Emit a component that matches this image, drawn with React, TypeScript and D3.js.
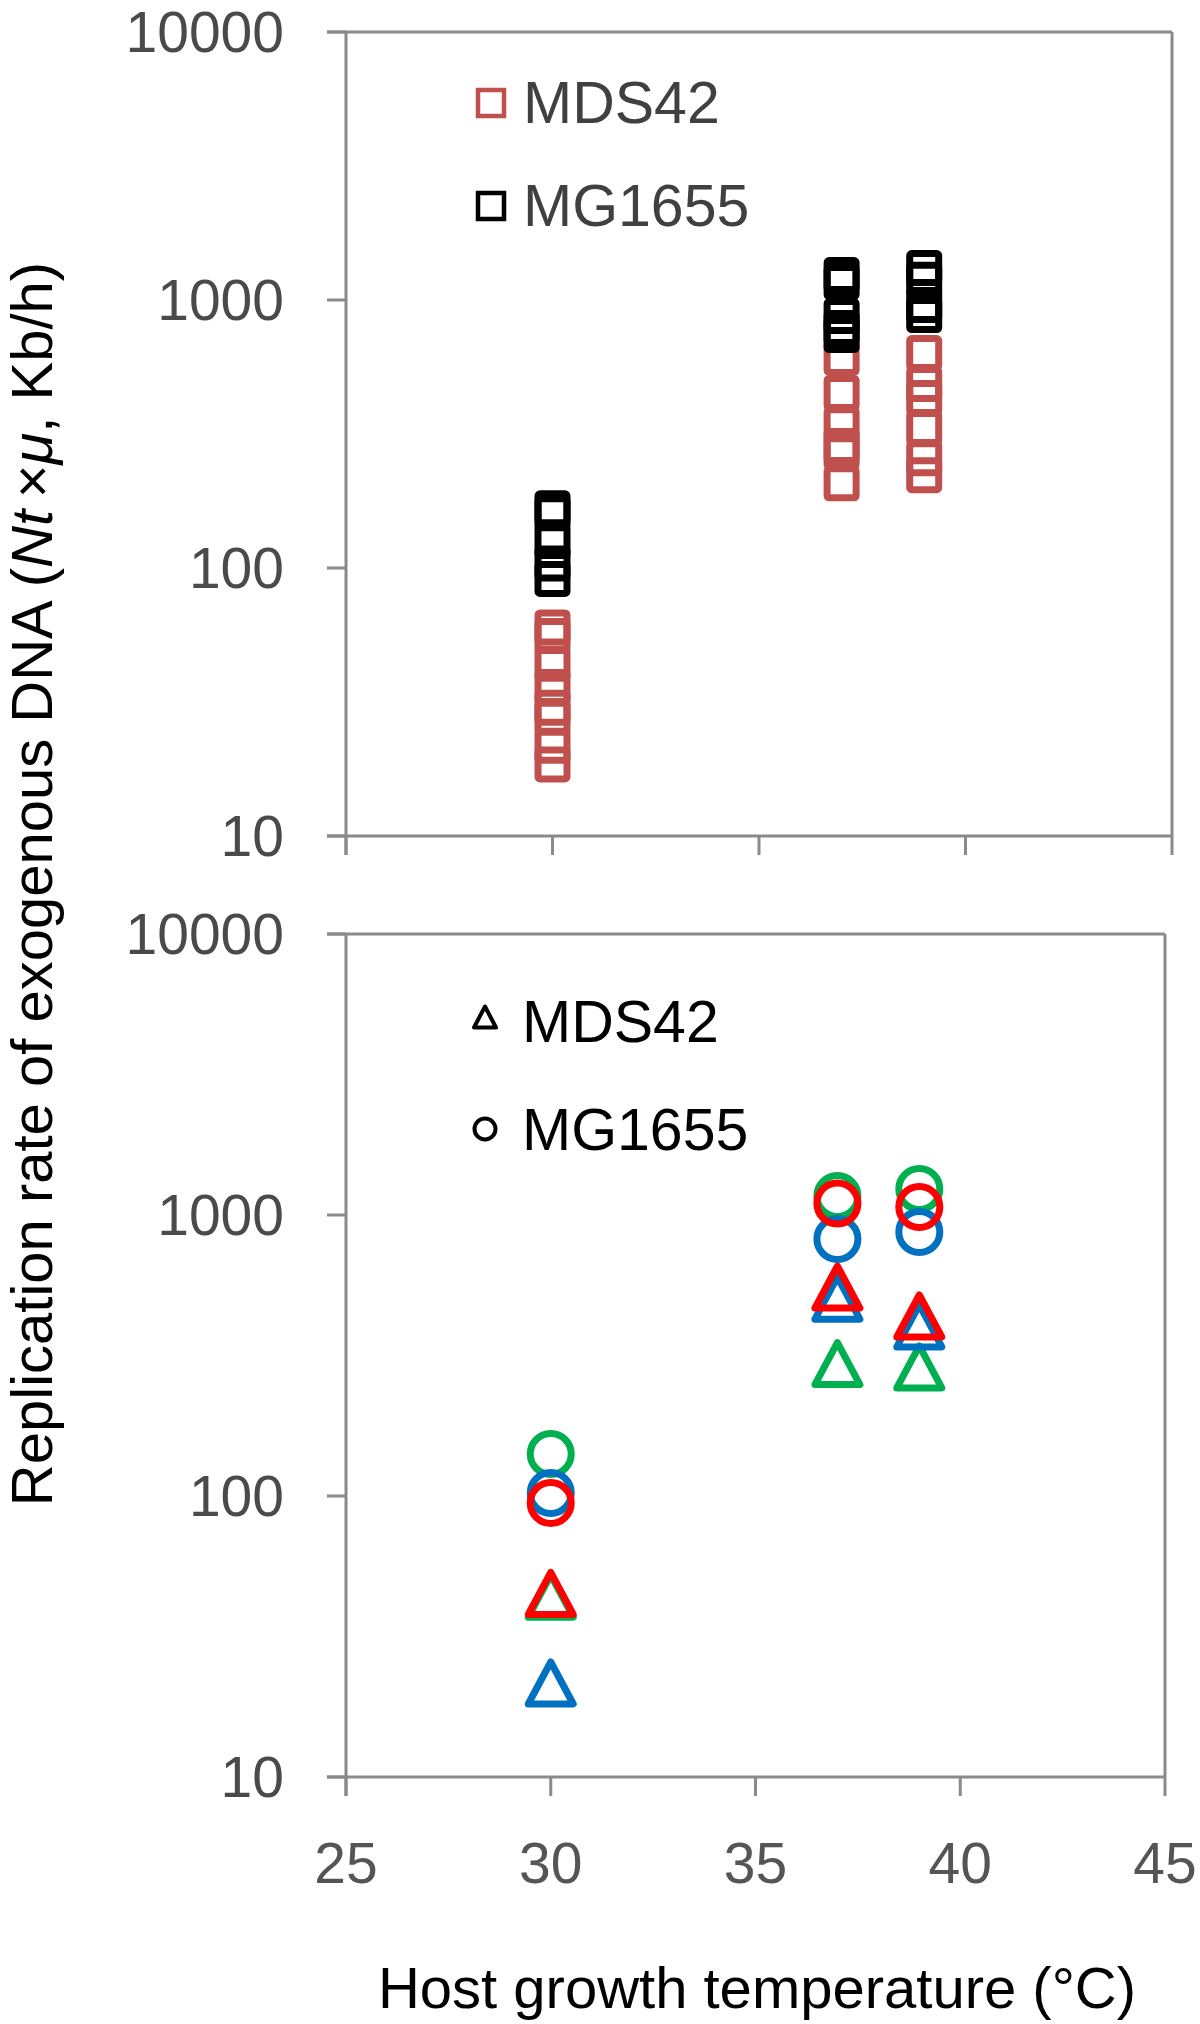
import { useEffect, useRef } from "react";
import * as d3 from "d3";

const X_TICKS = [25, 30, 35, 40, 45];
const Y_TICKS = [10, 100, 1000, 10000];
const TEMPS = [30, 37, 39];

// upper panel: replicate measurements per temperature
const MDS42_SQ = [
  [60, 55.7, 43.9, 36, 30.1, 27.6, 21.7, 18.5],
  [608, 450, 344, 285, 271, 207],
  [634, 486, 431, 333, 257, 222],
];
const MG1655_SQ = [
  [167, 160, 126, 104, 91],
  [1239, 1167, 871, 787, 740],
  [1316, 1189, 957, 879],
];

// lower panel: three experiments (green, blue, red)
const MDS42_GREEN = [44, 296, 288];
const MDS42_BLUE = [21.6, 506, 403];
const MDS42_RED = [45, 554, 437];
const MG1655_GREEN = [141, 1169, 1237];
const MG1655_BLUE = [102.5, 822, 870];
const MG1655_RED = [94.4, 1099, 1067];

const SERIES_COLORS = ["#00B050", "#0070C0", "#FF0000"];
const FONT = "'Liberation Sans', Arial, Helvetica, sans-serif";
const AXIS = "#8a8a8a";
const TICK = 19;

export default function App() {
  const ref = useRef(null);

  useEffect(() => {
    const svg = d3.select(ref.current);
    svg.selectAll("*").remove();

    const drawFrame = (x: any, y: any, xLabels: boolean) => {
      const g = svg.append("g").attr("stroke", AXIS).attr("stroke-width", 3);
      const [x0, x1] = x.range();
      const [yb, yt] = y.range();
      g.append("line").attr("x1", x0 - TICK).attr("x2", x1).attr("y1", yt).attr("y2", yt);
      g.append("line").attr("x1", x0 - TICK).attr("x2", x1).attr("y1", yb).attr("y2", yb);
      g.append("line").attr("x1", x1).attr("x2", x1).attr("y1", yt).attr("y2", yb);
      g.append("line").attr("x1", x0).attr("x2", x0).attr("y1", yt).attr("y2", yb + TICK);
      g.selectAll(".yt").data(Y_TICKS).join("line")
        .attr("x1", x0 - TICK).attr("x2", x0)
        .attr("y1", (d) => y(d)).attr("y2", (d) => y(d));
      g.selectAll(".xt").data(X_TICKS).join("line")
        .attr("x1", (d) => x(d)).attr("x2", (d) => x(d))
        .attr("y1", yb).attr("y2", yb + TICK);

      svg.append("g").selectAll("text").data(Y_TICKS).join("text")
        .attr("x", x0 - 62).attr("y", (d) => y(d))
        .attr("text-anchor", "end").attr("dominant-baseline", "central")
        .attr("font-family", FONT).attr("font-size", 57).attr("fill", "#4a4a4a")
        .text((d) => d);

      if (xLabels) {
        svg.append("g").selectAll("text").data(X_TICKS).join("text")
          .attr("x", (d) => x(d)).attr("y", yb + 86)
          .attr("text-anchor", "middle").attr("dominant-baseline", "central")
          .attr("font-family", FONT).attr("font-size", 57).attr("fill", "#555555")
          .text((d) => d);
      }
    };

    // ---- upper panel
    const xTop = d3.scaleLinear().domain([25, 45]).range([346, 1172]);
    const yTop = d3.scaleLog().domain([10, 10000]).range([836, 32]);
    drawFrame(xTop, yTop, false);

    const sq = 29;
    const drawSquares = (sets: number[][], color: string) => {
      const pts = sets.flatMap((vals, i) => vals.map((v) => [TEMPS[i], v]));
      svg.append("g").selectAll("rect").data(pts).join("rect")
        .attr("x", (d) => xTop(d[0]) - sq / 2)
        .attr("y", (d) => yTop(d[1]) - sq / 2)
        .attr("width", sq).attr("height", sq).attr("rx", 2)
        .attr("fill", "none").attr("stroke", color).attr("stroke-width", 7);
    };
    drawSquares(MDS42_SQ, "#C0504D");
    drawSquares(MG1655_SQ, "#000000");

    const legTop = svg.append("g").attr("font-family", FONT).attr("font-size", 59).attr("fill", "#404040");
    [["MDS42", "#C0504D", 103], ["MG1655", "#000000", 206]].forEach(([name, color, cy]: any) => {
      legTop.append("rect").attr("x", 491 - 13).attr("y", cy - 13).attr("width", 26).attr("height", 26)
        .attr("fill", "none").attr("stroke", color).attr("stroke-width", 4.5);
      legTop.append("text").attr("x", 523).attr("y", cy + 20).text(name);
    });

    // ---- lower panel
    const xBot = d3.scaleLinear().domain([25, 45]).range([346, 1165]);
    const yBot = d3.scaleLog().domain([10, 10000]).range([1777, 934]);
    drawFrame(xBot, yBot, true);

    const tri = (w: number, h: number) => `M0,${-h / 2}L${w / 2},${h / 2}L${-w / 2},${h / 2}Z`;
    const circles = [MG1655_GREEN, MG1655_BLUE, MG1655_RED];
    const triangles = [MDS42_GREEN, MDS42_BLUE, MDS42_RED];

    triangles.forEach((vals, s) => {
      svg.append("g").selectAll("path").data(vals).join("path")
        .attr("transform", (d, i) => `translate(${xBot(TEMPS[i])},${yBot(d)})`)
        .attr("d", tri(45, 42))
        .attr("fill", "none").attr("stroke", SERIES_COLORS[s]).attr("stroke-width", 7)
        .attr("stroke-linejoin", "round");
    });
    circles.forEach((vals, s) => {
      svg.append("g").selectAll("circle").data(vals).join("circle")
        .attr("cx", (d, i) => xBot(TEMPS[i])).attr("cy", (d) => yBot(d)).attr("r", 20.5)
        .attr("fill", "none").attr("stroke", SERIES_COLORS[s]).attr("stroke-width", 7);
    });

    const legBot = svg.append("g").attr("font-family", FONT).attr("font-size", 59).attr("fill", "#000");
    legBot.append("path").attr("transform", "translate(485,1017)").attr("d", tri(22, 21))
      .attr("fill", "none").attr("stroke", "#000").attr("stroke-width", 4).attr("stroke-linejoin", "round");
    legBot.append("text").attr("x", 522).attr("y", 1042).text("MDS42");
    legBot.append("circle").attr("cx", 485).attr("cy", 1129).attr("r", 10.5)
      .attr("fill", "none").attr("stroke", "#000").attr("stroke-width", 4);
    legBot.append("text").attr("x", 522).attr("y", 1150).text("MG1655");

    // ---- axis titles
    svg.append("text")
      .attr("x", 757).attr("y", 2008).attr("text-anchor", "middle")
      .attr("font-family", FONT).attr("font-size", 58).attr("fill", "#000")
      .text("Host growth temperature (°C)");

    const yt = svg.append("text")
      .attr("transform", "translate(52,884) rotate(-90)").attr("text-anchor", "middle")
      .attr("font-family", FONT).attr("font-size", 58).attr("fill", "#000");
    yt.append("tspan").text("Replication rate of exogenous DNA (");
    yt.append("tspan").attr("font-style", "italic").text("Nt");
    yt.append("tspan").text("\u2009×");
    yt.append("tspan").attr("font-style", "italic").text("μ");
    yt.append("tspan").text(", Kb/h)");
  }, []);

  return (
    <svg
      ref={ref}
      width={1200}
      height={2024}
      style={{ position: "absolute", left: 0, top: 0, display: "block", background: "#fff" }}
    />
  );
}
